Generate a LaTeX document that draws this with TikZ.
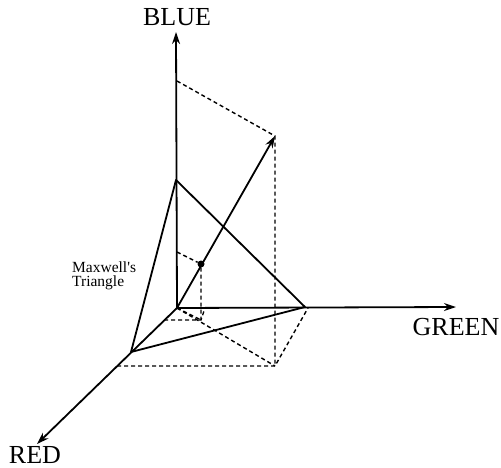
\documentclass[tikz,border=0pt]{standalone}
\usepackage{fontspec}
\setmainfont{Liberation Serif}
\usetikzlibrary{arrows.meta}
\begin{document}
\begin{tikzpicture}[x=1pt,y=-1pt,
  solidln/.style={line width=1.8pt},
  dashln/.style={line width=1.4pt,dash pattern=on 4pt off 3pt},
  axisarrow/.style={solidln,-{Stealth[length=12pt,width=8pt]}},
  axislabel/.style={font=\fontsize{26}{30}\selectfont,inner sep=0pt,anchor=base},
  dotnode/.style={circle,fill=black,inner sep=0pt,minimum size=7pt}]
\useasboundingbox (0,0) rectangle (501,468);
% points
\coordinate (O) at (177,308);
\coordinate (Bt) at (176,32);
\coordinate (Gt) at (456,307);
\coordinate (Rt) at (37,444);
\coordinate (B1) at (176,180);
\coordinate (G1) at (305,307);
\coordinate (R1) at (131,352);
\coordinate (P) at (275,136);
\coordinate (PB) at (177,81);
\coordinate (PF) at (275,366);
\coordinate (PR) at (117,366);
\coordinate (PG) at (308,308);
\coordinate (DB) at (177,252);
\coordinate (DF) at (201,320);
\coordinate (DR) at (164,320);
\coordinate (DG) at (205,308);
% dashed construction lines
\draw[dashln] (PB) -- (P) -- (PF);
\draw[dashln] (PR) -- (PF) -- (PG);
\draw[dashln] (O) -- (PF);
\draw[dashln] (DR) -- (DF) -- (DG);
\draw[dashln] (O) -- (DF);
% triangle
\draw[solidln,line join=round] (B1) -- (G1) -- (R1) -- cycle;
% axes
\draw[axisarrow] (O) -- (Bt);
\draw[axisarrow] (O) -- (Gt);
\draw[axisarrow] (O) -- (Rt);
% colour vector
\draw[axisarrow] (O) -- (P);
\node[dotnode] (D) at (201,264) {};
\draw[dashln] (DB) -- (D) -- (DF);
% labels
\node[axislabel] (lblue) at (177,26) {BLUE};
\node[axislabel] (lgreen) at (456,335) {GREEN};
\node[axislabel] (lred) at (35,463) {RED};
\node[font=\fontsize{15.5}{14}\selectfont,align=left,anchor=north west,inner sep=0pt] (lmax) at (72,262) {Maxwell\textquotesingle s\\Triangle};
\end{tikzpicture}
\end{document}
